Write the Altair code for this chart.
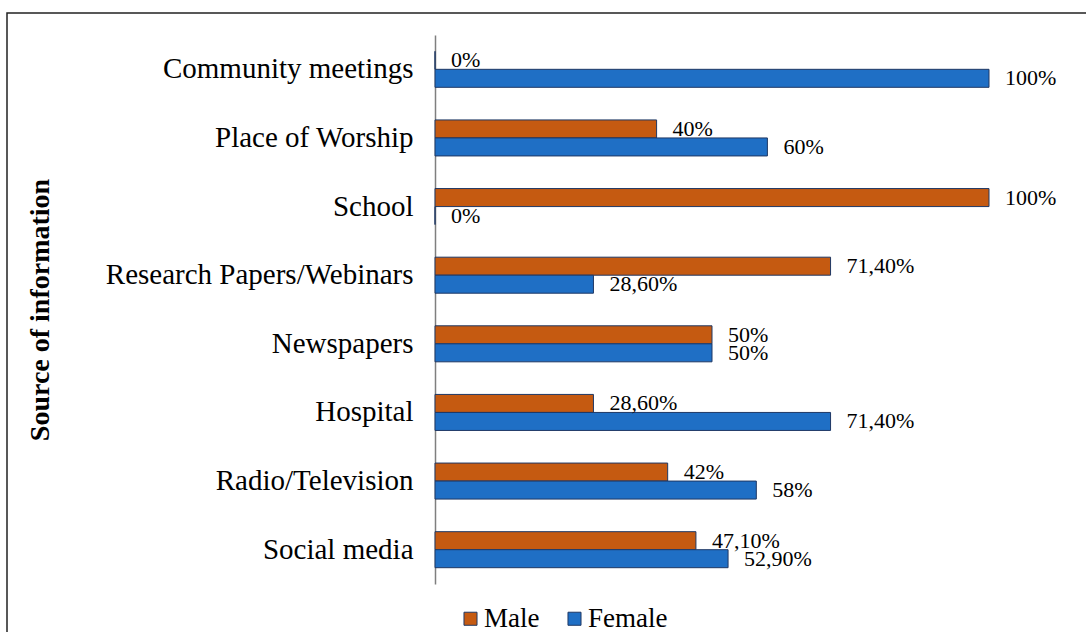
import altair as alt
import pandas as pd

categories = ["Community meetings", "Place of Worship", "School", "Research Papers/Webinars",
              "Newspapers", "Hospital", "Radio/Television", "Social media"]
male = [0, 40, 100, 71.4, 50, 28.6, 42, 47.1]
female = [100, 60, 0, 28.6, 50, 71.4, 58, 52.9]
male_labels = ["0%", "40%", "100%", "71,40%", "50%", "28,60%", "42%", "47,10%"]
female_labels = ["100%", "60%", "0%", "28,60%", "50%", "71,40%", "58%", "52,90%"]

rows = []
for i, c in enumerate(categories):
    rows.append({"source": c, "gender": "Male", "value": male[i], "label": male_labels[i]})
    rows.append({"source": c, "gender": "Female", "value": female[i], "label": female_labels[i]})
df = pd.DataFrame(rows)

FONT = "Liberation Serif"
W, H = 554, 549
PL, PT = 435, 35

y_enc = alt.Y("source:N", sort=categories,
              scale=alt.Scale(paddingInner=0.475, paddingOuter=0.2375),
              axis=alt.Axis(title="Source of information", titleFont=FONT, titleFontSize=28,
                            titleFontWeight="bold", titleColor="black", titleAngle=-90,
                            titleX=40 - PL, titleY=H / 2, titleAlign="center", titleBaseline="middle",
                            labelFont=FONT, labelFontSize=29, labelColor="black", labelPadding=22,
                            ticks=False, domainColor="#7f7f7f", domainWidth=1.5, labelLimit=500))
yoff = alt.YOffset("gender:N", sort=["Male", "Female"])
x_enc = alt.X("value:Q", scale=alt.Scale(domain=[0, 100]), axis=None)

bars = alt.Chart(df).mark_bar(stroke="#1F3864", strokeWidth=1).encode(
    y=y_enc, yOffset=yoff, x=x_enc,
    color=alt.Color("gender:N", sort=["Male", "Female"],
                    scale=alt.Scale(domain=["Male", "Female"], range=["#C55A11", "#1F6FC5"]),
                    legend=alt.Legend(title=None, orient="none", direction="horizontal",
                                      legendX=22, legendY=H + 21,
                                      labelFont=FONT, labelFontSize=27, labelColor="black",
                                      symbolType="square", symbolSize=170, symbolStrokeColor="#1F3864",
                                      symbolStrokeWidth=1, columnPadding=21, labelOffset=0)),
)

labels = alt.Chart(df).mark_text(align="left", baseline="middle", dx=16, font=FONT,
                                 fontSize=22, color="black").encode(
    y=alt.Y("source:N", sort=categories), yOffset=yoff, x=x_enc, text="label:N")

frame_df = pd.DataFrame({"k": [0]})
frame = alt.Chart(frame_df).mark_rect(fill=None, stroke="#222222", strokeWidth=1.5).encode(
    x=alt.value(7 - PL), x2=alt.value(1086 - PL + 10),
    y=alt.value(13 - PT), y2=alt.value(632 - PT + 10))

chart = alt.layer(frame, bars, labels).properties(
    width=W, height=H,
    autosize=alt.AutoSizeParams(type="none"),
    padding={"left": PL, "top": PT, "right": 1086 - PL - W, "bottom": 632 - PT - H},
).configure(background="white").configure_view(strokeWidth=0, stroke="transparent")

chart.save("out.html", embed_options={"renderer": "svg", "actions": False})
